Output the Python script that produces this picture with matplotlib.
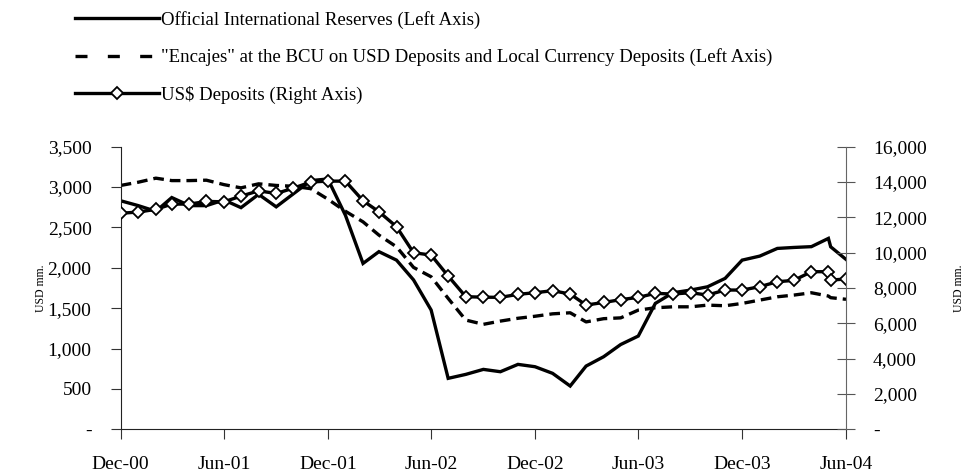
import matplotlib
matplotlib.use("Agg")
import matplotlib.pyplot as plt
import matplotlib.ticker as mticker
from matplotlib.lines import Line2D
import pandas as pd

plt.rcParams['font.family'] = ['Liberation Serif', 'DejaVu Serif']

# ---- data ----
dates = list(pd.date_range('2000-12-01', '2004-06-01', freq='MS'))
dates.insert(42, pd.Timestamp('2004-05-05'))  # extra observation in May-04

reserves = [2830, 2770, 2700, 2870, 2770, 2770, 2840, 2745, 2910, 2755,
            2915, 3080, 3100, 2650, 2054, 2200, 2095, 1850, 1477, 631,
            680, 742, 713, 804, 775, 693, 536, 783, 899, 1050,
            1155, 1559, 1691, 1724, 1765, 1869, 2095, 2145, 2240, 2252,
            2262, 2364, 2260, 2104]
encajes = [3020, 3060, 3110, 3080, 3080, 3085, 3030, 2990, 3040, 3020,
           3010, 2980, 2850, 2700, 2569, 2405, 2260, 2005, 1889, 1621,
           1353, 1300, 1340, 1375, 1400, 1430, 1443, 1330, 1370, 1380,
           1476, 1505, 1517, 1517, 1538, 1530, 1559, 1600, 1641, 1662,
           1691, 1650, 1630, 1610]
deposits = [12230, 12300, 12450, 12750, 12750, 12900, 12880, 13200, 13500, 13350,
            13650, 14000, 14050, 14050, 12940, 12317, 11468, 9996, 9865, 8677,
            7507, 7480, 7470, 7640, 7733, 7846, 7658, 7035, 7180, 7340,
            7470, 7696, 7658, 7733, 7601, 7884, 7884, 8073, 8356, 8430,
            8922, 8922, 8450, 8507]

tick_dates = pd.date_range('2000-12-01', '2004-06-01', freq='6MS')
tick_labels = ['Dec-00', 'Jun-01', 'Dec-01', 'Jun-02', 'Dec-02', 'Jun-03', 'Dec-03', 'Jun-04']

labels = ['Official International Reserves (Left Axis)',
          '"Encajes" at the BCU on USD Deposits and Local Currency Deposits (Left Axis)',
          'US$ Deposits (Right Axis)']

# ---- figure ----
fig = plt.figure(figsize=(9.64, 4.75), dpi=100)
ax = fig.add_axes([0.1252, 0.0962, 0.7524, 0.595])
ax2 = ax.twinx()

lw = 2.4
ax.plot(dates, reserves, color='black', lw=lw, solid_joinstyle='miter')
ax.plot(dates, encajes, color='black', lw=lw, dashes=(3.2, 1.8))
ax2.plot(dates, deposits, color='black', lw=lw, marker='D', markersize=6.5,
         markerfacecolor='white', markeredgecolor='black', markeredgewidth=1.3)

ax.set_xlim(dates[0], dates[-1])
ax.set_ylim(0, 3500)
ax2.set_ylim(0, 16000)
ax.set_yticks(range(0, 3501, 500))
ax2.set_yticks(range(0, 16001, 2000))
fmt = mticker.FuncFormatter(lambda v, p: '-' if v == 0 else f'{int(v):,}')
ax.yaxis.set_major_formatter(fmt)
ax2.yaxis.set_major_formatter(fmt)
ax.set_xticks(tick_dates)
ax.set_xticklabels(tick_labels)

fs = 14
ax.tick_params(axis='y', direction='out', length=7, pad=14, labelsize=fs, color='#333333')
ax.tick_params(axis='x', direction='out', length=7, pad=12, labelsize=fs, color='#333333')
ax2.tick_params(axis='y', direction='inout', length=13, pad=13, labelsize=fs, color='#555555')

for a in (ax, ax2):
    a.spines['top'].set_visible(False)
ax.spines['right'].set_visible(False)
ax2.spines['left'].set_visible(False)
ax2.spines['bottom'].set_visible(False)
ax.spines['left'].set_color('#222222')
ax.spines['bottom'].set_color('#222222')
ax2.spines['right'].set_color('#666666')

ax.set_ylabel('USD mm.', fontsize=8.5)
ax2.set_ylabel('USD mm.', fontsize=8.5)
ax.yaxis.set_label_coords(-0.101, 0.5)
ax2.yaxis.set_label_coords(1.147, 0.5)

# legend with proxy handles
h1 = Line2D([], [], color='black', lw=lw)
h2 = Line2D([], [], color='black', lw=lw, dashes=(3.6, 6.1))
h3 = Line2D([], [], color='black', lw=lw, marker='D', markersize=6.5,
            markerfacecolor='white', markeredgecolor='black', markeredgewidth=1.3)
fig.legend([h1, h2, h3], labels, loc='upper left',
           bbox_to_anchor=(75 / 964, 1 - 11 / 475), frameon=False,
           fontsize=13.5, handlelength=4.5, handletextpad=0.1,
           labelspacing=1.04, borderpad=0, borderaxespad=0, numpoints=1)

fig.savefig('out.png', dpi=100)
